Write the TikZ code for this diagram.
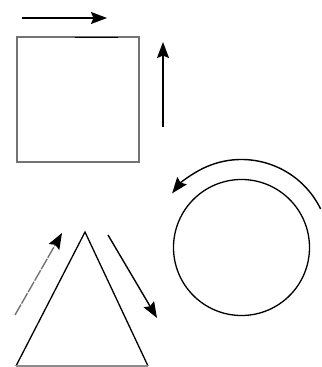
\documentclass[tikz,border=0pt]{standalone}
\usetikzlibrary{arrows.meta}
\begin{document}
\begin{tikzpicture}[x=0.5mm,y=-0.5mm,
  arr/.style={line width=0.7mm,-{Stealth[length=8mm,width=6mm,inset=1.2mm,color=black]}},
  outl/.style={draw=black,line width=0.65mm}]
\useasboundingbox (0,0) rectangle (321,367);
\clip (0,0) rectangle (321,367);
% square
\draw[draw=black!55,line width=0.55mm] (17,37) rectangle (139,162);
\draw[line width=0.7mm] (75,37.5) -- (118,37.5);
\draw[arr] (22,18) -- (107,18);
\draw[arr] (163,127) -- (163,42);
% circle
\coordinate (c) at (241.5,247.5);
\draw[outl] (c) circle [radius=68];
\draw[arr] (c) ++(-26:88) arc [start angle=-26,end angle=-142,radius=88];
% triangle
\draw[outl] (16,366) -- (85,232) -- (148,366);
\draw[draw=black!45,line width=0.55mm] (16,366) -- (148,366);
\draw[arr,draw=black!55,dash pattern=on 6mm off 0.6mm] (15,315) -- (62,233);
\draw[arr] (108,235) -- (157,318);
\end{tikzpicture}
\end{document}
